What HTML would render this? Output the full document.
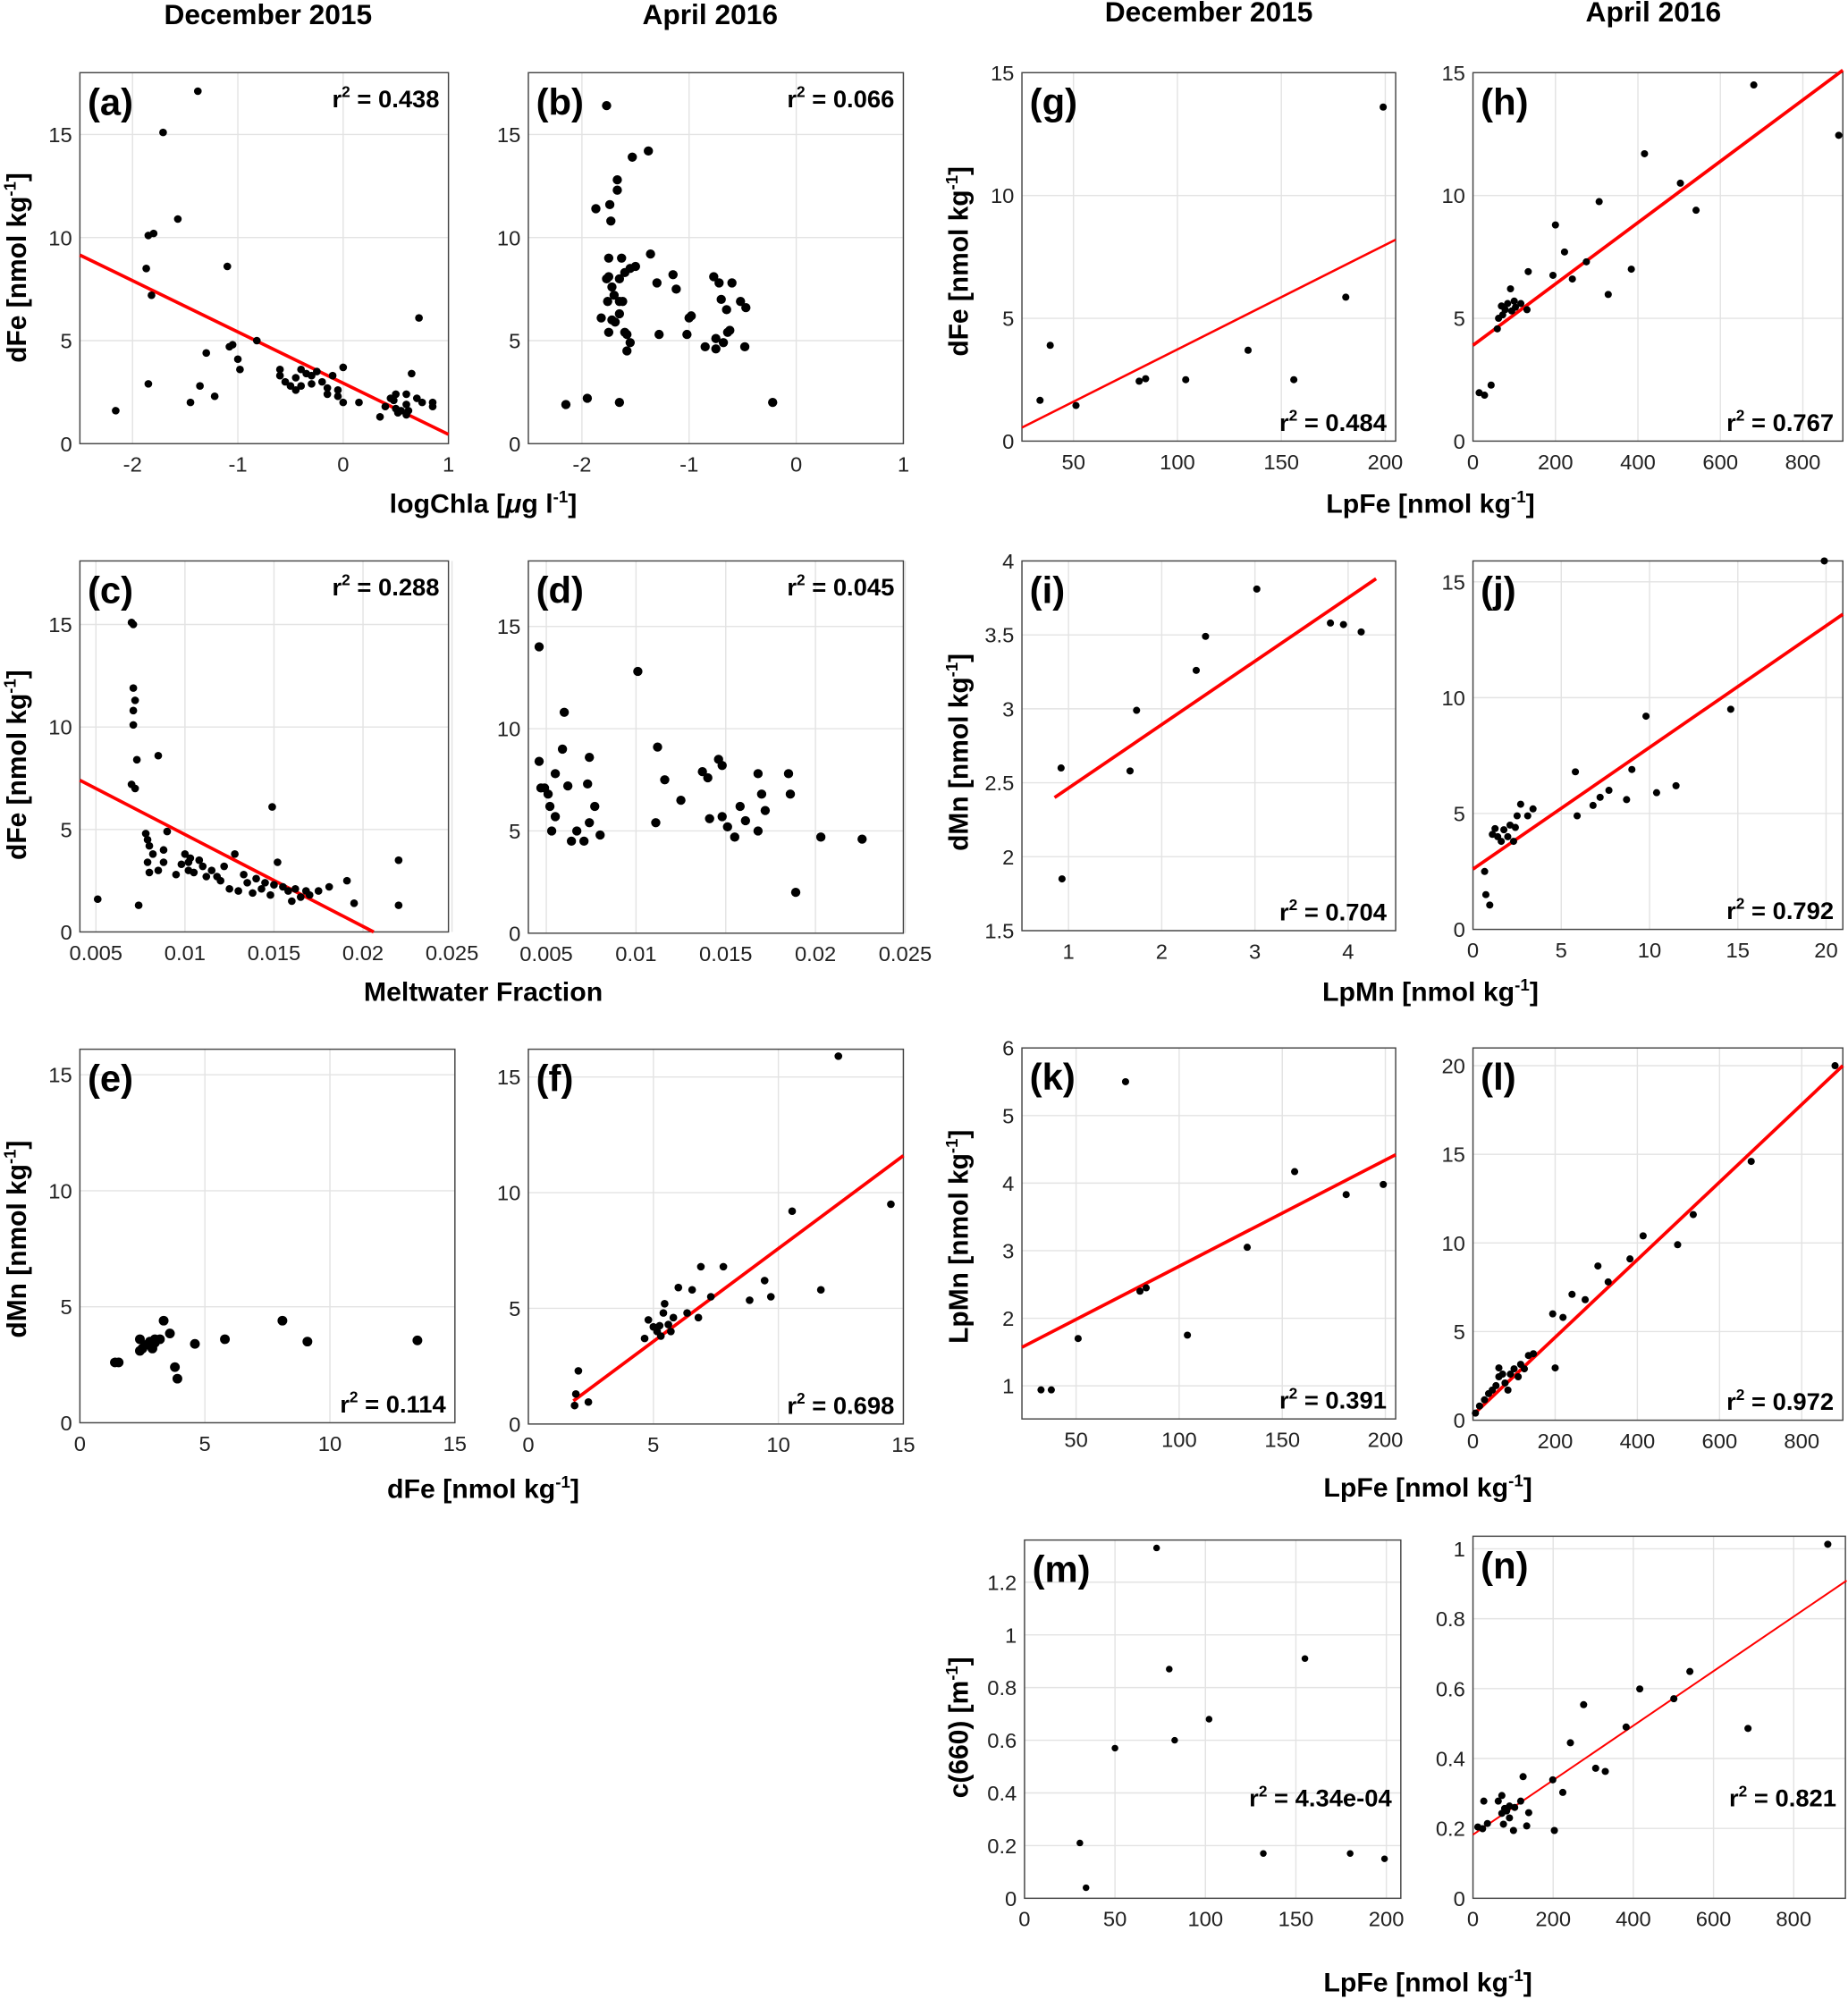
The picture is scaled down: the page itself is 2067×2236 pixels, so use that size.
<!DOCTYPE html>
<html><head><meta charset="utf-8"><style>
html,body{margin:0;padding:0;background:#fff;}
svg{display:block;}
text{font-family:"Liberation Sans",sans-serif;}
</style></head><body>
<svg id="fig" width="2067" height="2236" viewBox="0 0 1434 1568" preserveAspectRatio="none" xmlns="http://www.w3.org/2000/svg"></svg>
<script>
// ---- data arrays ----
const aX=[-2.16,-1.38,-1.71,-1.57,-1.8,-1.85,-1.87,-1.82,-1.85,-1.1,-1.3,-1.36,-1.45,-1.22,-1.05,-1.08,-0.98,-1.0,-0.82,-0.6,-0.55,-0.5,-0.45,-0.4,-0.35,-0.3,-0.25,-0.2,-0.15,-0.1,-0.05,0,0,-0.6,-0.45,-0.3,-0.05,-0.15,0.15,0.35,0.4,0.45,0.5,0.5,0.55,0.6,0.6,0.6,0.65,0.7,0.72,0.75,0.85,0.85,0.48,0.52,0.62,-0.4];
const aY=[1.6,17.1,15.1,10.9,10.2,10.1,8.5,7.2,2.9,8.6,4.4,2.8,2.0,2.3,4.8,4.7,3.6,4.1,5.0,3.3,3.0,2.8,3.2,3.6,3.4,2.9,3.5,3.0,2.4,3.3,2.6,2.0,3.7,3.6,2.6,3.3,2.3,2.7,2.0,1.3,1.8,2.2,1.7,2.4,1.6,2.4,1.4,1.9,3.4,2.2,6.1,2.0,2.0,1.8,2.1,1.5,1.6,2.8];
const aFit=[[-2.5,9.15],[1,0.45]];
const bX=[-2.15,-1.95,-1.65,-0.22,-1.77,-1.53,-1.38,-1.67,-1.67,-1.87,-1.74,-1.73,-1.75,-1.63,-1.36,-1.77,-1.75,-1.6,-1.55,-1.5,-1.65,-1.72,-1.7,-1.76,-1.65,-1.62,-1.82,-1.72,-1.69,-1.65,-1.75,-1.6,-1.58,-1.55,-1.58,-1.3,-1.28,-1.15,-1.12,-1.0,-0.98,-1.02,-0.77,-0.72,-0.6,-0.7,-0.52,-0.47,-0.65,-0.62,-0.64,-0.75,-0.75,-0.68,-0.48,-0.85];
const bY=[1.9,2.2,2.0,2.0,16.4,13.9,14.2,12.8,12.3,11.4,11.6,10.8,9.0,9.0,9.2,8.0,8.1,8.3,8.5,8.6,8.0,7.6,7.2,6.9,6.9,6.9,6.1,6.0,5.9,6.3,5.4,5.4,5.3,4.9,4.5,7.8,5.3,8.2,7.5,6.1,6.2,5.3,8.1,7.8,7.8,7.0,6.9,6.6,6.5,5.5,5.4,5.1,4.6,4.9,4.7,4.7];
const cX=[0.0051,0.0070,0.0071,0.0071,0.0072,0.0071,0.0071,0.0073,0.0070,0.0072,0.0085,0.0074,0.0149,0.022,0.022,0.0195,0.0191,0.0078,0.0079,0.008,0.0082,0.0079,0.008,0.0085,0.0088,0.009,0.0088,0.0095,0.0098,0.01,0.0102,0.0103,0.0105,0.0108,0.011,0.0112,0.0115,0.012,0.0122,0.0125,0.0128,0.013,0.0133,0.0135,0.0138,0.014,0.0143,0.0145,0.0148,0.015,0.0152,0.0155,0.0158,0.016,0.0162,0.0165,0.0168,0.017,0.0175,0.0181,0.0102,0.0118];
const cY=[1.6,15.1,15.0,11.9,11.3,10.8,10.1,8.4,7.2,7.0,8.6,1.3,6.1,3.5,1.3,1.4,2.5,4.8,4.5,4.2,3.8,3.4,2.9,3.0,3.4,4.9,4.0,2.8,3.3,3.8,3.0,3.6,2.9,3.5,3.2,2.7,3.0,2.5,3.2,2.1,3.8,2.0,2.8,2.4,1.9,2.6,2.1,2.4,1.8,2.3,3.4,2.2,2.0,1.5,2.1,1.7,2.0,1.8,2.0,2.2,3.4,2.7];
const cFit=[[0.0041,7.4],[0.0206,0]];
const dX=[0.0046,0.0046,0.0047,0.0049,0.0051,0.0052,0.0053,0.0055,0.0055,0.0059,0.0062,0.0060,0.0064,0.0067,0.0071,0.0074,0.0073,0.0074,0.0077,0.0080,0.0101,0.0111,0.0112,0.0116,0.0125,0.0137,0.0140,0.0146,0.0148,0.0141,0.0148,0.0151,0.0155,0.0158,0.0161,0.0168,0.0170,0.0168,0.0172,0.0185,0.0186,0.0189,0.0203,0.0226];
const dY=[14.0,8.4,7.1,7.1,6.8,6.2,5.0,5.7,7.8,9.0,7.2,10.8,4.5,5.0,4.5,5.4,7.3,8.6,6.2,4.8,12.8,5.4,9.1,7.5,6.5,7.9,7.6,8.5,8.2,5.6,5.7,5.2,4.7,6.2,5.5,7.8,6.8,5.0,6.0,7.8,6.8,2.0,4.7,4.6];
const eX=[1.4,1.55,2.4,2.5,2.6,2.8,3.0,2.9,3.2,3.35,3.6,3.8,3.9,4.6,5.8,8.1,9.1,13.5,3.0,2.4];
const eY=[2.6,2.6,3.6,3.2,3.35,3.5,3.45,3.2,3.6,4.4,3.85,2.4,1.9,3.4,3.6,4.4,3.5,3.55,3.6,3.1];
const fX=[1.85,2.4,1.9,2.0,4.8,4.65,5.0,5.15,5.25,5.45,5.3,5.6,5.7,5.4,5.8,6.0,6.35,6.55,6.9,6.8,7.3,7.8,8.85,9.45,9.7,10.55,11.7,12.4,14.5];
const fY=[0.8,0.95,1.3,2.3,4.5,3.7,4.2,4.0,4.25,5.2,3.8,4.3,4.0,4.8,4.6,5.9,4.8,5.8,6.8,4.6,5.5,6.8,5.35,6.2,5.5,9.2,5.8,15.9,9.5];
const fFit=[[1.8,1.0],[15,11.6]];
const gX=[33.9,38.8,51.2,81.6,84.7,104,134,156,181,199];
const gY=[1.66,3.9,1.45,2.44,2.54,2.5,3.7,2.5,5.86,13.6];
const gFit=[[25.2,0.55],[205,8.2]];
const hX=[15,28,44,59,69,72,78,84,91,94,103,116,131,134,194,200,222,241,275,306,328,384,416,503,541,681,887,100,62];
const hY=[1.97,1.87,2.28,4.57,5.5,5.14,5.35,5.6,6.2,5.3,5.45,5.6,5.35,6.9,6.75,8.8,7.7,6.6,7.3,9.75,5.97,7.0,11.7,10.5,9.4,14.5,12.45,5.7,5.0];
const hFit=[[0,3.9],[897,15.1]];
const iX=[0.92,0.93,1.66,1.73,2.37,2.47,3.02,3.81,3.95,4.14];
const iY=[2.6,1.85,2.58,2.99,3.26,3.49,3.81,3.58,3.57,3.52];
const iFit=[[0.85,2.4],[4.3,3.88]];
const jX=[0.66,0.73,0.95,1.1,1.4,1.6,1.75,1.97,2.1,2.3,2.5,2.7,3.1,3.4,2.4,5.8,5.9,6.8,7.2,7.7,8.7,9.0,9.8,10.4,11.5,14.6,19.9,1.25];
const jY=[2.5,1.5,1.05,4.1,4.0,3.8,4.3,4.0,4.5,3.8,4.9,5.4,4.9,5.2,4.4,6.8,4.9,5.35,5.7,6.0,5.6,6.9,9.2,5.9,6.2,9.5,15.9,4.35];
const jFit=[[0,2.6],[20.95,13.6]];
const kX=[33,38,51,74,81,84,104,133,156,181,199];
const kY=[0.94,0.94,1.7,5.5,2.4,2.45,1.75,3.05,4.17,3.83,3.98];
const kFit=[[23.75,1.57],[205,4.42]];
const lX=[6,16,28,38,47,56,63,72,78,85,91,100,110,116,125,135,147,63,200,194,219,241,273,304,329,382,414,498,536,677,881];
const lY=[0.4,0.8,1.15,1.5,1.7,1.95,2.45,2.6,2.1,1.7,2.6,2.9,2.45,3.15,2.9,3.65,3.75,2.95,2.95,6.0,5.8,7.1,6.8,8.7,7.8,9.1,10.4,9.9,11.6,14.6,20.0];
const lFit=[[0,0.3],[900,20.0]];
const mX=[30.6,34,50,73,80,83,102,132,155,180,199];
const mY=[0.21,0.04,0.57,1.33,0.87,0.60,0.68,0.17,0.91,0.17,0.15];
const nX=[885,541,501,416,382,686,276,243,306,330,199,224,203,125,119,139,134,101,104,91,91,79,76,72,72,63,27,36,24,12,84];
const nY=[1.013,0.649,0.571,0.599,0.49,0.486,0.554,0.445,0.372,0.363,0.339,0.303,0.194,0.348,0.278,0.245,0.207,0.194,0.26,0.264,0.23,0.257,0.212,0.243,0.294,0.278,0.278,0.214,0.199,0.204,0.25];
const nFit=[[0,0.182],[932,0.909]];

const panels=[
 {id:'a',x0:62,x1:348,y0:57,y1:348,xd:[-2.5,1],yd:[0,18],xt:[-2,-1,0,1],yt:[0,5,10,15],X:aX,Y:aY,fit:aFit,r:'0.438',rp:'top',dr:3},
 {id:'b',x0:410,x1:701,y0:57,y1:348,xd:[-2.5,1],yd:[0,18],xt:[-2,-1,0,1],yt:[0,5,10,15],X:bX,Y:bY,r:'0.066',rp:'top',dr:3.6},
 {id:'c',x0:62,x1:348,y0:440,y1:731,xd:[0.0041,0.0248],yd:[0,18.1],xt:[0.005,0.01,0.015,0.02,0.025],yt:[0,5,10,15],X:cX,Y:cY,fit:cFit,r:'0.288',rp:'top',dr:3},
 {id:'d',x0:410,x1:701,y0:440,y1:732,xd:[0.004,0.0249],yd:[0,18.2],xt:[0.005,0.01,0.015,0.02,0.025],yt:[0,5,10,15],X:dX,Y:dY,r:'0.045',rp:'top',dr:3.6},
 {id:'e',x0:62,x1:353,y0:823,y1:1116,xd:[0,15],yd:[0,16.1],xt:[0,5,10,15],yt:[0,5,10,15],X:eX,Y:eY,r:'0.114',rp:'bot',dr:3.8},
 {id:'f',x0:410,x1:701,y0:823,y1:1117,xd:[0,15],yd:[0,16.2],xt:[0,5,10,15],yt:[0,5,10,15],X:fX,Y:fY,fit:fFit,r:'0.698',rp:'bot',dr:3},
 {id:'g',x0:793,x1:1083,y0:57,y1:346,xd:[25.2,205],yd:[0,15],xt:[50,100,150,200],yt:[0,5,10,15],X:gX,Y:gY,fit:gFit,r:'0.484',rp:'bot',dr:2.8,fw:1.8},
 {id:'h',x0:1143,x1:1430,y0:57,y1:346,xd:[0,897],yd:[0,15],xt:[0,200,400,600,800],yt:[0,5,10,15],X:hX,Y:hY,fit:hFit,r:'0.767',rp:'bot',dr:2.8},
 {id:'i',x0:793,x1:1083,y0:440,y1:730,xd:[0.5,4.51],yd:[1.5,4],xt:[1,2,3,4],yt:[1.5,2,2.5,3,3.5,4],X:iX,Y:iY,fit:iFit,r:'0.704',rp:'bot',dr:2.8},
 {id:'j',x0:1143,x1:1430,y0:440,y1:729,xd:[0,20.95],yd:[0,15.9],xt:[0,5,10,15,20],yt:[0,5,10,15],X:jX,Y:jY,fit:jFit,r:'0.792',rp:'bot',dr:2.8},
 {id:'k',x0:793,x1:1083,y0:822,y1:1113,xd:[23.75,205],yd:[0.51,6],xt:[50,100,150,200],yt:[1,2,3,4,5,6],X:kX,Y:kY,fit:kFit,r:'0.391',rp:'bot',dr:2.8},
 {id:'l',x0:1143,x1:1430,y0:822,y1:1114,xd:[0,900],yd:[0,21],xt:[0,200,400,600,800],yt:[0,5,10,15,20],X:lX,Y:lY,fit:lFit,r:'0.972',rp:'bot',dr:2.8},
 {id:'m',x0:795,x1:1087,y0:1208,y1:1489,xd:[0,208],yd:[0,1.36],xt:[0,50,100,150,200],yt:[0,0.2,0.4,0.6,0.8,1,1.2],X:mX,Y:mY,r:'4.34e-04',rp:'mid',dr:2.6},
 {id:'n',x0:1143,x1:1432,y0:1205,y1:1489,xd:[0,929],yd:[0,1.036],xt:[0,200,400,600,800],yt:[0,0.2,0.4,0.6,0.8,1],X:nX,Y:nY,fit:nFit,r:'0.821',rp:'mid',dr:2.8,fw:1.4}
];

const NS='http://www.w3.org/2000/svg';
const svg=document.getElementById('fig');
function mk(tag,attrs,parent){const e=document.createElementNS(NS,tag);for(const k in attrs)e.setAttribute(k,attrs[k]);(parent||svg).appendChild(e);return e;}
function fmt(v){let s=String(+v.toFixed(4));if(s.startsWith('0.')&&false)return s;return s.replace(/^(-?)0\./,'$10.');}

panels.forEach(p=>{
  const g=mk('g',{});
  
  
  const sx=v=>p.x0+(v-p.xd[0])/(p.xd[1]-p.xd[0])*(p.x1-p.x0);
  const sy=v=>p.y1-(v-p.yd[0])/(p.yd[1]-p.yd[0])*(p.y1-p.y0);
  mk('rect',{x:p.x0,y:p.y0,width:p.x1-p.x0,height:p.y1-p.y0,fill:'#fff',stroke:'none'},g);
  p.xt.forEach(t=>{const x=sx(t);
    const l=mk('line',{x1:x,x2:x,y1:p.y0,y2:p.y1,stroke:'#e3e3e3','stroke-width':1},g);
    
    
    const tx=mk('text',{x:x,y:p.y1+22,'font-size':16.5,'text-anchor':'middle',fill:'#222'},g);
    tx.textContent=fmt(t);
    
    
  });
  p.yt.forEach(t=>{const y=sy(t);
    const l=mk('line',{x1:p.x0,x2:p.x1,y1:y,y2:y,stroke:'#e3e3e3','stroke-width':1},g);
    
    
    const tx=mk('text',{x:p.x0-6,y:y+6,'font-size':16.5,'text-anchor':'end',fill:'#222'},g);
    tx.textContent=fmt(t);
    
    
  });
  const fr=mk('rect',{x:p.x0,y:p.y0,width:p.x1-p.x0,height:p.y1-p.y0,fill:'none',stroke:'#444','stroke-width':1},g);
  
  
  if(p.fit){
    const ln=mk('line',{x1:sx(p.fit[0][0]),y1:sy(p.fit[0][1]),x2:sx(p.fit[1][0]),y2:sy(p.fit[1][1]),stroke:'#f00','stroke-width':p.fw||2.6},g);
    
    
  }
  p.X.forEach((xv,i)=>{
    const c=mk('circle',{cx:sx(xv),cy:sy(p.Y[i]),r:p.dr,fill:'#000'},g);
    
    
  });
  const lb=mk('text',{x:p.x0+6,y:p.y0+33,'font-size':29,'font-weight':'bold',fill:'#000'},g);
  lb.textContent='('+p.id+')';
  
  
  let ry=p.rp==='top'?p.y0+27:(p.rp==='bot'?p.y1-8:1417);
  const rt=mk('text',{x:p.x1-7,y:ry,'font-size':19,'font-weight':'bold','text-anchor':'end',fill:'#000'},g);
  rt.innerHTML='r<tspan font-size="12" dy="-8">2</tspan><tspan dy="8"> = '+p.r+'</tspan>';
  
  
});

function label(txt,x,y,rot,name,size){
  const t=mk('text',{x:x,y:y,'font-size':size||21,'font-weight':'bold','text-anchor':'middle',fill:'#000'});
  if(rot)t.setAttribute('transform','rotate(-90 '+x+' '+y+')');
  t.innerHTML=txt;
  
  
}
const sup='<tspan font-size="13" dy="-8">-1</tspan><tspan dy="8">]</tspan>';
label('December 2015',208,19,0,'column-title-dec-2015-left',22);
label('April 2016',551,19,0,'column-title-apr-2016-left',22);
label('December 2015',938,17,0,'column-title-dec-2015-right',22);
label('April 2016',1283,17,0,'column-title-apr-2016-right',22);
label('logChla [<tspan font-style="italic">μ</tspan>g l'+sup,375,402,0,'x-axis-title-logchla');
label('Meltwater Fraction',375,785,0,'x-axis-title-meltwater');
label('dFe [nmol kg'+sup,375,1175,0,'x-axis-title-dfe');
label('LpFe [nmol kg'+sup,1110,402,0,'x-axis-title-lpfe-top');
label('LpMn [nmol kg'+sup,1110,785,0,'x-axis-title-lpmn');
label('LpFe [nmol kg'+sup,1108,1174,0,'x-axis-title-lpfe-mid');
label('LpFe [nmol kg'+sup,1108,1562,0,'x-axis-title-lpfe-bottom');
label('dFe [nmol kg'+sup,20,210,1,'y-axis-title-dfe-a');
label('dFe [nmol kg'+sup,20,600,1,'y-axis-title-dfe-c');
label('dMn [nmol kg'+sup,20,972,1,'y-axis-title-dmn-e');
label('dFe [nmol kg'+sup,751,205,1,'y-axis-title-dfe-g');
label('dMn [nmol kg'+sup,751,590,1,'y-axis-title-dmn-i');
label('LpMn [nmol kg'+sup,751,970,1,'y-axis-title-lpmn-k');
label('c(660)  [m'+sup,751,1355,1,'y-axis-title-c660-m');
</script>
</body></html>
